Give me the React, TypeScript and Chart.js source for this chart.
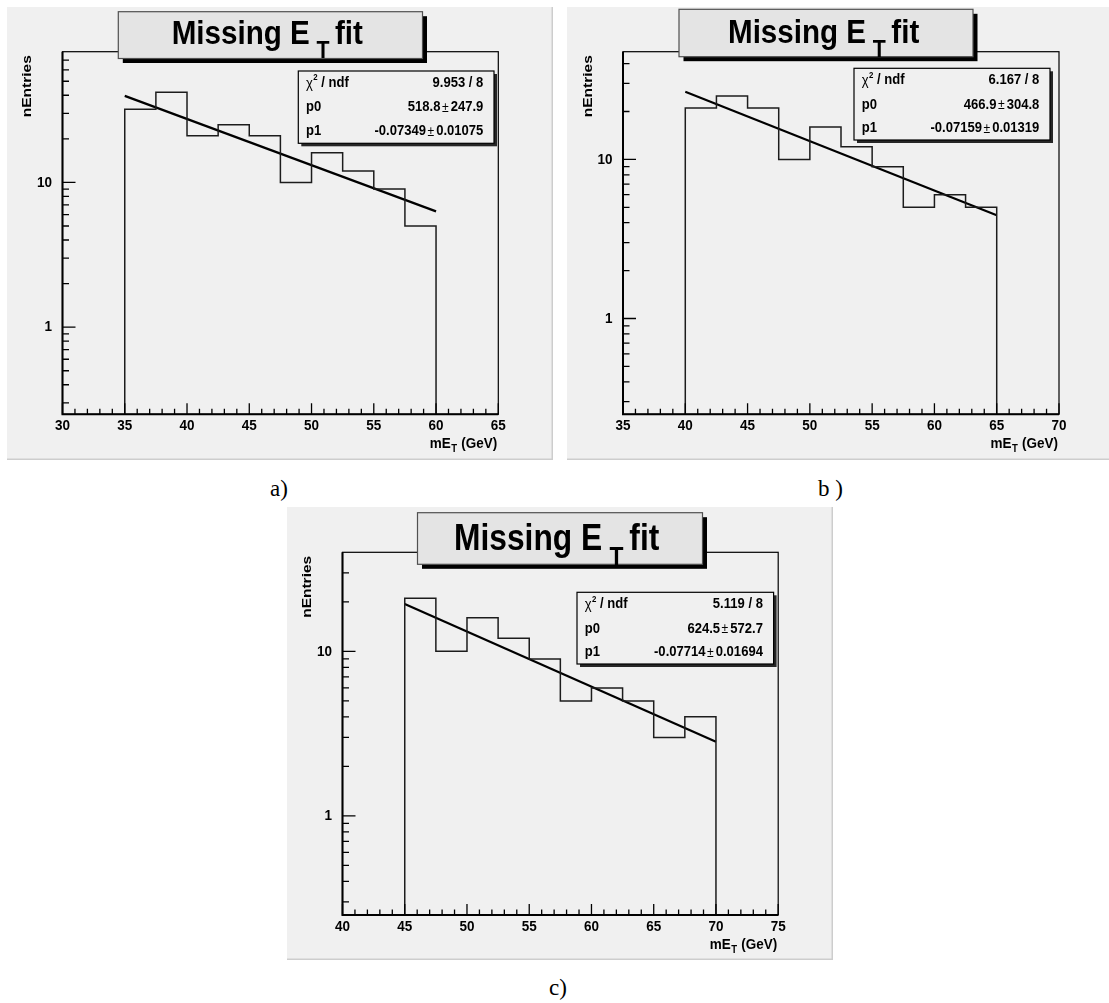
import React, { useEffect, useRef } from "react";
import { Chart, registerables } from "chart.js";
Chart.register(...registerables);

// ---------------- data ----------------
const BIN_WIDTH = 2.5;
const Y_MIN = 0.25;

const binLowA = [35, 37.5, 40, 42.5, 45, 47.5, 50, 52.5, 55, 57.5];
const countsA = [32, 42, 21, 25, 21, 10, 16, 12, 9, 5];
const binLowB = [40, 42.5, 45, 47.5, 50, 52.5, 55, 57.5, 60, 62.5];
const countsB = [21, 25, 21, 10, 16, 12, 9, 5, 6, 5];
const binLowC = [45, 47.5, 50, 52.5, 55, 57.5, 60, 62.5, 65, 67.5];
const countsC = [21, 10, 16, 12, 9, 5, 6, 5, 3, 4];

// fit line end points
const fitXA = [35, 60];
const fitYA = [39.6, 6.31];
const fitXB = [40, 65];
const fitYB = [26.6, 4.45];
const fitXC = [45, 70];
const fitYC = [19.4, 2.82];

const xTicksA = [30, 35, 40, 45, 50, 55, 60, 65];
const xTicksB = [35, 40, 45, 50, 55, 60, 65, 70];
const xTicksC = [40, 45, 50, 55, 60, 65, 70, 75];
const yTickLabels = [1, 10];

const chi2A = "9.953 / 8";
const p0A = ["518.8", "247.9"];
const p1A = ["-0.07349", "0.01075"];
const chi2B = "6.167 / 8";
const p0B = ["466.9", "304.8"];
const p1B = ["-0.07159", "0.01319"];
const chi2C = "5.119 / 8";
const p0C = ["624.5", "572.7"];
const p1C = ["-0.07714", "0.01694"];

const yMaxA = 80;
const yMaxB = 47.5;
const yMaxC = 40;

const panelLabels = ["a)", "b )", "c)"];

// ---------------- drawing helpers ----------------
const SX = 0.87;
const SANS = '"Liberation Sans", Arial, Helvetica, sans-serif';

function setFont(ctx: CanvasRenderingContext2D, size: number, bold = true) {
  ctx.font = `${bold ? "bold " : ""}${size}px ${SANS}`;
}
function tw(ctx: CanvasRenderingContext2D, s: string, size: number, bold = true) {
  ctx.save();
  setFont(ctx, size, bold);
  const w = ctx.measureText(s).width * SX;
  ctx.restore();
  return w;
}
function txt(
  ctx: CanvasRenderingContext2D,
  s: string,
  x: number,
  y: number,
  size: number,
  align: CanvasTextAlign = "left",
  baseline: CanvasTextBaseline = "alphabetic",
  bold = true
) {
  ctx.save();
  setFont(ctx, size, bold);
  ctx.fillStyle = "#000";
  ctx.textAlign = align;
  ctx.textBaseline = baseline;
  ctx.translate(x, y);
  ctx.scale(SX, 1);
  ctx.fillText(s, 0, 0);
  ctx.restore();
}

type Rect = { l: number; t: number; r: number; b: number };
interface PanelCfg {
  bg: Rect;
  frame: Rect;
  xMin: number;
  xMax: number;
  yMax: number;
  binLow: number[];
  counts: number[];
  fitX: number[];
  fitY: number[];
  xTicks: number[];
  title: Rect & { textX: number; baseline: number; size: number };
  stats: Rect;
  chi2: string;
  p0: string[];
  p1: string[];
  rightBorder: boolean;
}

const panels: PanelCfg[] = [
  {
    bg: { l: 7, t: 7, r: 553, b: 460 },
    frame: { l: 62.5, t: 51.7, r: 498.3, b: 414.3 },
    xMin: 30, xMax: 65, yMax: yMaxA,
    binLow: binLowA, counts: countsA, fitX: fitXA, fitY: fitYA, xTicks: xTicksA,
    title: { l: 118.3, t: 11.7, r: 422.5, b: 58.5, textX: 171.7, baseline: 44.3, size: 34 },
    stats: { l: 298.3, t: 71, r: 494, b: 143.3 },
    chi2: chi2A, p0: p0A, p1: p1A, rightBorder: true,
  },
  {
    bg: { l: 567, t: 7, r: 1109, b: 460 },
    frame: { l: 623, t: 51.7, r: 1059, b: 414.3 },
    xMin: 35, xMax: 70, yMax: yMaxB,
    binLow: binLowB, counts: countsB, fitX: fitXB, fitY: fitYB, xTicks: xTicksB,
    title: { l: 679, t: 9.3, r: 973, b: 56.7, textX: 728, baseline: 43.3, size: 34 },
    stats: { l: 854, t: 68.3, r: 1050, b: 140 },
    chi2: chi2B, p0: p0B, p1: p1B, rightBorder: false,
  },
  {
    bg: { l: 287, t: 507, r: 833, b: 960 },
    frame: { l: 342.5, t: 552.3, r: 778.2, b: 915 },
    xMin: 40, xMax: 75, yMax: yMaxC,
    binLow: binLowC, counts: countsC, fitX: fitXC, fitY: fitYC, xTicks: xTicksC,
    title: { l: 417.5, t: 512.7, r: 702.5, b: 564.3, textX: 454, baseline: 550, size: 36.5 },
    stats: { l: 577, t: 592.3, r: 773.6, b: 664 },
    chi2: chi2C, p0: p0C, p1: p1C, rightBorder: true,
  },
];

function Panel({ cfg }: { cfg: PanelCfg }) {
  const ref = useRef<HTMLCanvasElement>(null);
  const W = cfg.bg.r - cfg.bg.l;
  const H = cfg.bg.b - cfg.bg.t;

  useEffect(() => {
    const ox = cfg.bg.l;
    const oy = cfg.bg.t;
    const last = cfg.binLow.length - 1;
    const hist = [
      { x: cfg.binLow[0], y: Y_MIN },
      ...cfg.binLow.map((x, i) => ({ x, y: cfg.counts[i] })),
      { x: cfg.binLow[last] + BIN_WIDTH, y: cfg.counts[last] },
      { x: cfg.binLow[last] + BIN_WIDTH, y: Y_MIN },
    ];
    const fit = cfg.fitX.map((x, i) => ({ x, y: cfg.fitY[i] }));

    const deco = {
      id: "rootDeco",
      beforeDraw(chart: any) {
        const ctx = chart.ctx as CanvasRenderingContext2D;
        ctx.save();
        ctx.fillStyle = "#f0f0f0";
        ctx.fillRect(0, 0, W, H);
        ctx.strokeStyle = "#cdcdcd";
        ctx.lineWidth = 1.5;
        ctx.beginPath();
        ctx.moveTo(0, H - 0.75);
        ctx.lineTo(W, H - 0.75);
        if (cfg.rightBorder) {
          ctx.moveTo(W - 0.75, 0);
          ctx.lineTo(W - 0.75, H);
        }
        ctx.stroke();
        ctx.restore();
      },
      afterDatasetsDraw(chart: any) {
        const ctx = chart.ctx as CanvasRenderingContext2D;
        const ca = chart.chartArea;
        const xs = chart.scales.x;
        const ys = chart.scales.y;
        ctx.save();
        // frame
        ctx.strokeStyle = "#000";
        ctx.lineWidth = 1.2;
        ctx.strokeRect(ca.left, ca.top, ca.right - ca.left, ca.bottom - ca.top);
        ctx.lineWidth = 2;
        ctx.beginPath();
        ctx.moveTo(ca.left, ca.top);
        ctx.lineTo(ca.left, ca.bottom);
        ctx.lineTo(ca.right, ca.bottom);
        ctx.stroke();
        // x ticks
        ctx.lineWidth = 1.3;
        ctx.beginPath();
        for (let v = cfg.xMin; v <= cfg.xMax; v += 1) {
          const px = xs.getPixelForValue(v);
          const len = v % 5 === 0 ? 11 : 5.5;
          ctx.moveTo(px, ca.bottom);
          ctx.lineTo(px, ca.bottom - len);
        }
        // y ticks
        for (const v of yTickLabels) {
          const py = ys.getPixelForValue(v);
          ctx.moveTo(ca.left, py);
          ctx.lineTo(ca.left + 13, py);
        }
        for (const d of [0.1, 1, 10]) {
          for (let k = 2; k <= 9; k++) {
            const v = d * k;
            if (v <= Y_MIN || v >= cfg.yMax) continue;
            const py = ys.getPixelForValue(v);
            ctx.moveTo(ca.left, py);
            ctx.lineTo(ca.left + 6.5, py);
          }
        }
        ctx.stroke();
        ctx.restore();
        // tick labels
        for (const v of cfg.xTicks) {
          txt(ctx, String(v), xs.getPixelForValue(v), ca.bottom + 11.6, 15.5, "center", "middle");
        }
        for (const v of yTickLabels) {
          txt(ctx, String(v), ca.left - 10.5, ys.getPixelForValue(v), 15.5, "right", "middle");
        }
      },
      afterDraw(chart: any) {
        const ctx = chart.ctx as CanvasRenderingContext2D;
        const ca = chart.chartArea;
        // y axis title (rotated)
        ctx.save();
        ctx.translate(ca.left - 35, ca.top + 3.5);
        ctx.rotate(-Math.PI / 2);
        ctx.scale(1, SX);
        setFont(ctx, 15.5);
        ctx.fillStyle = "#000";
        ctx.textAlign = "right";
        ctx.textBaseline = "middle";
        ctx.fillText("nEntries", 0, 0);
        ctx.restore();

        // x axis title: mE_T (GeV), right aligned
        {
          const right = ca.right - 1;
          const yb = ca.bottom + 34;
          const wRest = tw(ctx, " (GeV)", 15.5);
          const wT = tw(ctx, "T", 11);
          const wM = tw(ctx, "mE", 15.5);
          const x0 = right - wRest - wT - 1 - wM;
          txt(ctx, "mE", x0, yb, 15.5);
          txt(ctx, "T", x0 + wM + 0.5, yb + 4, 11);
          txt(ctx, " (GeV)", x0 + wM + 1 + wT, yb, 15.5);
        }

        // title box
        const T = cfg.title;
        const tl = T.l - ox, tt = T.t - oy, tr = T.r - ox, tb = T.b - oy;
        ctx.save();
        ctx.fillStyle = "#000";
        ctx.fillRect(tl + 4.5, tt + 4.5, tr - tl, tb - tt);
        ctx.fillStyle = "#e4e4e4";
        ctx.fillRect(tl, tt, tr - tl, tb - tt);
        ctx.strokeStyle = "#505050";
        ctx.lineWidth = 1.2;
        ctx.strokeRect(tl, tt, tr - tl, tb - tt);
        ctx.restore();
        {
          const S = T.size;
          const x0 = T.textX - ox;
          const yb = T.baseline - oy;
          const w1 = tw(ctx, "Missing E", S);
          txt(ctx, "Missing E", x0, yb, S);
          const xT = x0 + w1 + 0.2 * S;
          const sT = 0.72 * S;
          txt(ctx, "T", xT, yb + 0.4 * S, sT);
          const wT = tw(ctx, "T", sT);
          txt(ctx, "fit", xT + wT + 0.16 * S, yb, S);
        }

        // stats box
        const St = cfg.stats;
        const sl = St.l - ox, st = St.t - oy, sr = St.r - ox, sb = St.b - oy;
        ctx.save();
        ctx.fillStyle = "#262626";
        ctx.fillRect(sl + 3, st + 3, sr - sl, sb - st);
        ctx.fillStyle = "#f0f0f0";
        ctx.fillRect(sl, st, sr - sl, sb - st);
        ctx.strokeStyle = "#000";
        ctx.lineWidth = 1.2;
        ctx.strokeRect(sl, st, sr - sl, sb - st);
        ctx.restore();
        const rows = [st + 11.8, st + 36.2, st + 59.8];
        const lx = sl + 7.7;
        const rx = sr - 10.7;
        // row 1
        {
          const y = rows[0];
          const wChi = tw(ctx, "\u03C7", 15, false);
          txt(ctx, "\u03C7", lx, y + 1, 15, "left", "middle", false);
          txt(ctx, "2", lx + wChi + 0.5, y - 5, 9, "left", "middle");
          const w2 = tw(ctx, "2", 9);
          txt(ctx, " / ndf", lx + wChi + 0.5 + w2, y, 15, "left", "middle");
          txt(ctx, cfg.chi2, rx, y, 15, "right", "middle");
        }
        const valRow = (y: number, label: string, vals: string[]) => {
          txt(ctx, label, lx, y, 15, "left", "middle");
          const wErr = tw(ctx, vals[1], 15);
          const wPm = tw(ctx, "\u00B1", 14, false);
          const xErr = rx - wErr;
          const xPm = xErr - 2 - wPm;
          txt(ctx, vals[1], xErr, y, 15, "left", "middle");
          txt(ctx, "\u00B1", xPm, y + 1, 14, "left", "middle", false);
          txt(ctx, vals[0], xPm - 1.5, y, 15, "right", "middle");
        };
        valRow(rows[1], "p0", cfg.p0);
        valRow(rows[2], "p1", cfg.p1);
      },
    };

    const chart = new Chart(ref.current as HTMLCanvasElement, {
      type: "line",
      data: {
        datasets: [
          {
            data: hist,
            stepped: "before",
            borderColor: "#1c1c1c",
            borderWidth: 1.5,
            pointRadius: 0,
            fill: false,
          } as any,
          {
            data: fit,
            borderColor: "#000",
            borderWidth: 2.2,
            pointRadius: 0,
            fill: false,
          } as any,
        ],
      },
      options: {
        animation: false,
        responsive: false,
        devicePixelRatio: 1,
        events: [],
        layout: {
          padding: {
            left: cfg.frame.l - cfg.bg.l,
            top: cfg.frame.t - cfg.bg.t,
            right: cfg.bg.r - cfg.frame.r,
            bottom: cfg.bg.b - cfg.frame.b,
          },
        },
        plugins: { legend: { display: false }, tooltip: { enabled: false }, title: { display: false } },
        scales: {
          x: { type: "linear", min: cfg.xMin, max: cfg.xMax, display: false },
          y: { type: "logarithmic", min: Y_MIN, max: cfg.yMax, display: false },
        },
      } as any,
      plugins: [deco],
    });
    return () => chart.destroy();
  }, [cfg]);

  return (
    <canvas
      ref={ref}
      width={W}
      height={H}
      style={{ position: "absolute", left: cfg.bg.l, top: cfg.bg.t, width: W, height: H }}
    />
  );
}

const labelPos = [
  { x: 270, y: 477 },
  { x: 818, y: 477 },
  { x: 549, y: 976 },
];

export default function App() {
  return (
    <div
      style={{
        position: "absolute",
        left: 0,
        top: 0,
        width: 1109,
        height: 1003,
        background: "#fff",
        overflow: "hidden",
      }}
    >
      {panels.map((p, i) => (
        <Panel key={i} cfg={p} />
      ))}
      {panelLabels.map((s, i) => (
        <div
          key={s}
          style={{
            position: "absolute",
            left: labelPos[i].x,
            top: labelPos[i].y,
            font: '23px "Liberation Serif", "Times New Roman", serif',
            lineHeight: "23px",
            whiteSpace: "pre",
          }}
        >
          {s}
        </div>
      ))}
    </div>
  );
}
